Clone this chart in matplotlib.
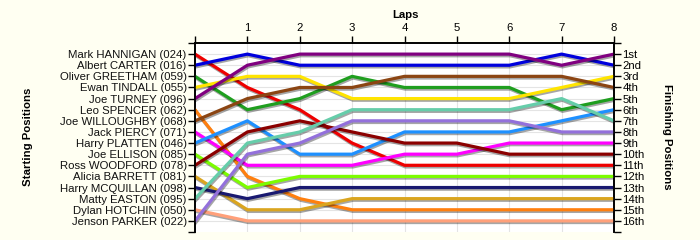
import matplotlib
matplotlib.use("Agg")
import matplotlib.pyplot as plt
import matplotlib.patheffects as pe

plt.rcParams['font.family'] = ['Liberation Sans', 'DejaVu Sans']

laps = [0, 1, 2, 3, 4, 5, 6, 7, 8]
drivers = [
    "Mark HANNIGAN (024)", "Albert CARTER (016)", "Oliver GREETHAM (059)",
    "Ewan TINDALL (055)", "Joe TURNEY (096)", "Leo SPENCER (062)",
    "Joe WILLOUGHBY (068)", "Jack PIERCY (071)", "Harry PLATTEN (046)",
    "Joe ELLISON (085)", "Ross WOODFORD (078)", "Alicia BARRETT (081)",
    "Harry MCQUILLAN (098)", "Matty EASTON (095)", "Dylan HOTCHIN (050)",
    "Jenson PARKER (022)",
]
colors = [
    "#ee0000", "#0000dd", "#1f9e1f", "#ffe400", "#800080", "#ff7f0e",
    "#8b4513", "#ff00ff", "#1e90ff", "#7cfc00", "#8b0000", "#daa520",
    "#191970", "#66cdaa", "#ffa07a", "#9370db",
]
pos_hannigan = [1, 4, 6, 9, 11, 11, 11, 11, 11]
pos_carter = [2, 1, 2, 2, 2, 2, 2, 1, 2]
pos_greetham = [3, 6, 5, 3, 4, 4, 4, 6, 5]
pos_tindall = [4, 3, 3, 5, 5, 5, 5, 4, 3]
pos_turney = [5, 2, 1, 1, 1, 1, 1, 2, 1]
pos_spencer = [6, 12, 14, 15, 15, 15, 15, 15, 15]
pos_willoughby = [7, 5, 4, 4, 3, 3, 3, 3, 4]
pos_piercy = [8, 11, 11, 11, 10, 10, 9, 9, 9]
pos_platten = [9, 7, 10, 10, 8, 8, 8, 7, 6]
pos_ellison = [10, 13, 12, 12, 12, 12, 12, 12, 12]
pos_woodford = [11, 8, 7, 8, 9, 9, 10, 10, 10]
pos_barrett = [12, 15, 15, 14, 14, 14, 14, 14, 14]
pos_mcquillan = [13, 14, 13, 13, 13, 13, 13, 13, 13]
pos_easton = [14, 9, 8, 6, 6, 6, 6, 5, 7]
pos_hotchin = [15, 16, 16, 16, 16, 16, 16, 16, 16]
pos_parker = [16, 10, 9, 7, 7, 7, 7, 8, 8]
positions = [pos_hannigan, pos_carter, pos_greetham, pos_tindall, pos_turney,
             pos_spencer, pos_willoughby, pos_piercy, pos_platten, pos_ellison,
             pos_woodford, pos_barrett, pos_mcquillan, pos_easton, pos_hotchin,
             pos_parker]
finish_labels = ["1st", "2nd", "3rd", "4th", "5th", "6th", "7th", "8th", "9th",
                 "10th", "11th", "12th", "13th", "14th", "15th", "16th"]

FS = 8.2

fig = plt.figure(figsize=(7, 2.4), dpi=100, facecolor="#fffff2")
ax = fig.add_axes([195/700, 1-232/240, (614-195)/700, (232-43)/240])
ax.set_facecolor("white")

for p, c in zip(positions, colors):
    ax.plot(laps, p, color=c, lw=2.3, solid_joinstyle='round', zorder=3,
            path_effects=[pe.SimpleLineShadow(offset=(0.6, -1.2), shadow_color='black', alpha=0.35),
                          pe.Normal()])

n = len(drivers)
ax.set_xlim(0, 8)
ax.set_ylim(n + 1, 0)

for i in range(1, n + 1):
    ax.axhline(i, color="#e4e4e4", lw=0.8, zorder=1)
for x in laps[1:]:
    ax.axvline(x, color="#e4e4e4", lw=0.8, zorder=1)

ax.spines['bottom'].set_visible(False)
for s in ['left', 'right', 'top']:
    ax.spines[s].set_linewidth(1.2)
    ax.spines[s].set_color('black')

yticks = list(range(0, n + 2))
ax.set_yticks(yticks)
ax.set_yticklabels([""] + drivers + [""], fontsize=FS, color="#111111")
ax.tick_params(axis='y', which='both', direction='out', length=5, width=1, pad=1, left=True)

ax.xaxis.set_ticks_position('top')
ax.set_xticks(laps)
ax.set_xticklabels([""] + [str(l) for l in laps[1:]], fontsize=FS)
ax.tick_params(axis='x', direction='out', length=5, width=1, pad=2)

ax2 = ax.twinx()
ax2.set_ylim(n + 1, 0)
ax2.set_yticks(yticks)
ax2.set_yticklabels([""] + finish_labels + [""], fontsize=FS)
ax2.tick_params(axis='y', direction='out', length=5, width=1, pad=1)
ax2.spines['bottom'].set_visible(False)
for s in ['left', 'right', 'top']:
    ax2.spines[s].set_linewidth(1.2)

fig.text(405/700, 1-15/240, "Laps", ha='center', va='center', fontsize=FS, fontweight='bold')
fig.text(28/700, 1-137/240, "Starting Positions", ha='center', va='center', rotation=90,
         fontsize=FS, fontweight='bold')
fig.text(667/700, 1-137/240, "Finishing Positions", ha='center', va='center', rotation=-90,
         fontsize=FS, fontweight='bold')

fig.savefig("out.png", dpi=100, facecolor=fig.get_facecolor())
